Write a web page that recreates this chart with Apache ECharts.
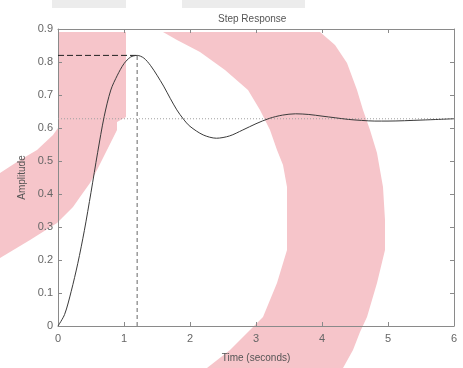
<!DOCTYPE html>
<html>
<head>
<meta charset="utf-8">
<script src="https://cdn.jsdelivr.net/npm/echarts@6/dist/echarts.min.js"></script>
<style>
html,body{margin:0;padding:0;background:#fff;}
#chart{width:463px;height:368px;}
</style>
</head>
<body>
<div id="chart"></div>
<script>
// ---- data ----
const times     = [0, 0.1, 0.2, 0.3, 0.4, 0.5, 0.6, 0.7, 0.8, 0.9, 1.0, 1.1, 1.2, 1.3, 1.4, 1.5, 1.6, 1.7, 1.8, 1.9, 2.0, 2.2, 2.4, 2.6, 2.8, 3.0, 3.2, 3.4, 3.6, 3.8, 4.0, 4.2, 4.4, 4.6, 4.8, 5.0, 5.5, 6.0];
const amplitude = [0, 0.035, 0.105, 0.19, 0.29, 0.405, 0.525, 0.635, 0.715, 0.76, 0.795, 0.815, 0.82, 0.812, 0.79, 0.76, 0.727, 0.69, 0.655, 0.627, 0.605, 0.579, 0.569, 0.576, 0.594, 0.613, 0.629, 0.639, 0.643, 0.641, 0.636, 0.631, 0.626, 0.623, 0.621, 0.621, 0.624, 0.628];
const peakTime = 1.2;
const peakAmplitude = 0.82;
const finalValue = 0.628;
const xTicks = [0, 1, 2, 3, 4, 5, 6];
const yTicks = [0, 0.1, 0.2, 0.3, 0.4, 0.5, 0.6, 0.7, 0.8, 0.9];
const titleText = 'Step Response';
const xLabel = 'Time (seconds)';
const yLabel = 'Amplitude';

const chart = echarts.init(document.getElementById('chart'), null, {renderer: 'canvas'});
const FONT = 'Liberation Sans';
const axisColor = '#8a8a8a';
const textColor = '#666';

const xMin = xTicks[0], xMax = xTicks[xTicks.length - 1];
const yMin = yTicks[0], yMax = yTicks[yTicks.length - 1];
const xInt = xTicks[1] - xTicks[0];
const yInt = +(yTicks[1] - yTicks[0]).toFixed(3);

function xAxisDef(pos, showLabel) {
  return {
    type: 'value', gridIndex: 0, position: pos, min: xMin, max: xMax, interval: xInt,
    name: showLabel ? xLabel : '', nameLocation: 'middle', nameGap: 27,
    nameTextStyle: {fontFamily: FONT, fontSize: 10, color: '#555'},
    axisLine: {show: true, onZero: false, lineStyle: {color: axisColor, width: 1}},
    axisTick: {show: true, inside: true, length: 4, lineStyle: {color: axisColor}},
    axisLabel: {show: showLabel, margin: 7, fontFamily: FONT, fontSize: 11, color: textColor},
    splitLine: {show: false}
  };
}
function yAxisDef(pos, showLabel) {
  return {
    type: 'value', gridIndex: 0, position: pos, min: yMin, max: yMax, interval: yInt,
    name: showLabel ? yLabel : '', nameLocation: 'middle', nameGap: 31, nameRotate: 90,
    nameTextStyle: {fontFamily: FONT, fontSize: 10, color: '#555'},
    axisLine: {show: true, onZero: false, lineStyle: {color: axisColor, width: 1}},
    axisTick: {show: true, inside: true, length: 4, lineStyle: {color: axisColor}},
    axisLabel: {show: showLabel, margin: 5, fontFamily: FONT, fontSize: 11, color: textColor,
      formatter: v => String(+v.toFixed(2))},
    splitLine: {show: false}
  };
}

const pink = '#f6c5ca';
const option = {
  backgroundColor: '#fff',
  animation: false,
  title: {
    text: titleText, left: 213, top: 9,
    textStyle: {fontFamily: FONT, fontSize: 10, fontWeight: 'normal', color: '#555'}
  },
  graphic: [
    {type: 'rect', z: -10, shape: {x: 52, y: 0, width: 74, height: 8}, style: {fill: '#ececec'}},
    {type: 'rect', z: -10, shape: {x: 182, y: 0, width: 123, height: 8}, style: {fill: '#ececec'}},
    {type: 'polygon', z: -10, shape: {points: [[58,32],[126,32],[126,117],[117,122],[117,130],[112,140],[107,150],[97,170],[90,183],[80,197],[73,207],[63,217],[57,223],[30,240],[0,258],[0,173],[20,160],[37,150],[53,135],[58,128]]}, style: {fill: pink}},
    {type: 'polygon', z: -10, shape: {points: [[163,32],[320,32],[335,45],[347,63],[357,90],[363,110],[370,130],[377,153],[383,187],[385,220],[385,250],[377,283],[367,317],[360,332],[353,350],[343,368],[207,368],[230,350],[250,330],[263,317],[277,283],[287,250],[287,187],[283,165],[277,150],[270,130],[260,110],[248,90],[225,70],[200,52],[177,40]]}, style: {fill: pink}}
  ],
  grid: {left: 58, right: 9, top: 29, bottom: 37, containLabel: false, show: false},
  xAxis: [xAxisDef('bottom', true), xAxisDef('top', false)],
  yAxis: [yAxisDef('left', true), yAxisDef('right', false)],
  series: [
    {
      type: 'line', xAxisIndex: 0, yAxisIndex: 0, symbol: 'none', silent: true,
      data: [[xMin, finalValue], [xMax, finalValue]],
      lineStyle: {color: '#a0a0a0', width: 1, type: [1, 2]}, z: 1
    },
    {
      type: 'line', xAxisIndex: 0, yAxisIndex: 0, symbol: 'none', silent: true,
      data: [[peakTime, yMin], [peakTime, peakAmplitude]],
      lineStyle: {color: '#999', width: 1.5, type: [4, 3]}, z: 1
    },
    {
      type: 'line', xAxisIndex: 0, yAxisIndex: 0, symbol: 'none', silent: true,
      data: [[xMin, peakAmplitude], [peakTime, peakAmplitude]],
      lineStyle: {color: '#222', width: 1, type: [6, 3]}, z: 2
    },
    {
      type: 'line', xAxisIndex: 0, yAxisIndex: 0, symbol: 'none', silent: true,
      smooth: 0.3,
      data: times.map((t, i) => [t, amplitude[i]]),
      lineStyle: {color: '#3a3a3a', width: 1}, z: 3
    }
  ]
};
chart.setOption(option);
</script>
</body>
</html>
